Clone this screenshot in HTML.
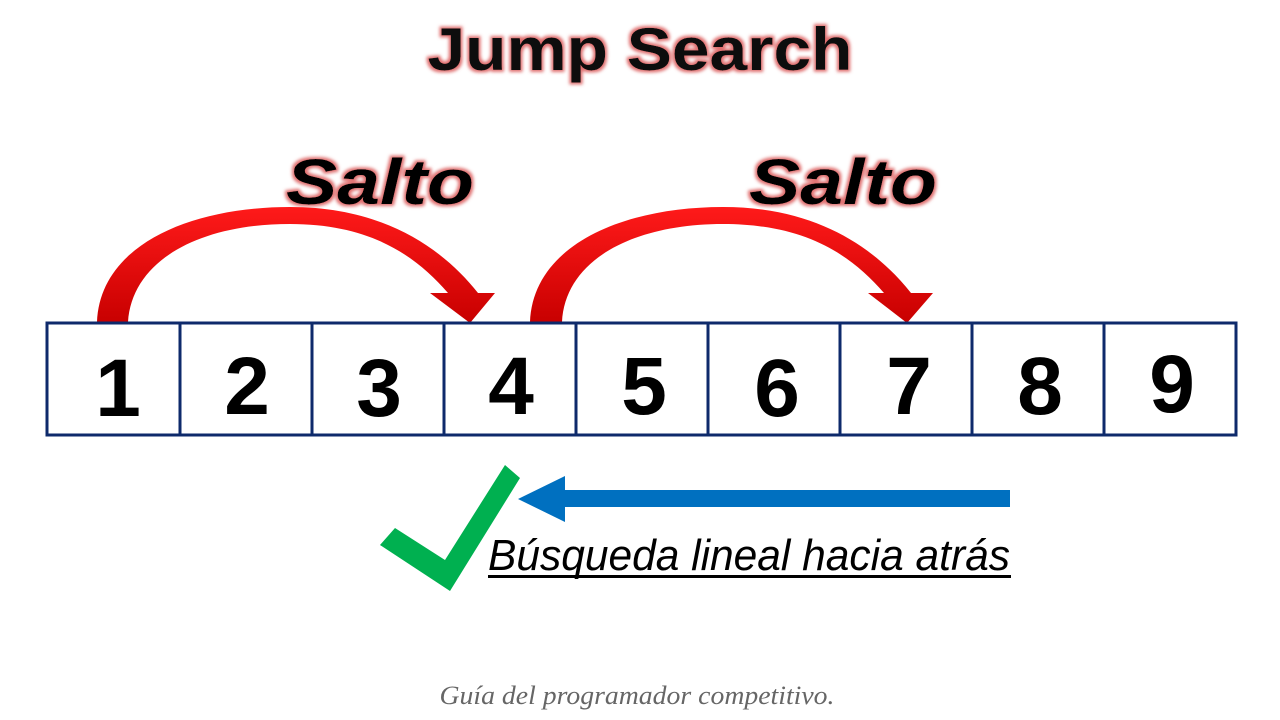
<!DOCTYPE html>
<html><head><meta charset="utf-8"><style>
html,body{margin:0;padding:0;background:#fff;width:1280px;height:720px;overflow:hidden}
</style></head><body>
<svg width="1280" height="720" viewBox="0 0 1280 720" xmlns="http://www.w3.org/2000/svg">
<defs>
<filter id="glow" x="-20%" y="-40%" width="140%" height="180%">
<feMorphology in="SourceAlpha" operator="dilate" radius="2" result="d"/>
<feGaussianBlur in="d" stdDeviation="1.5" result="b"/>
<feFlood flood-color="#e07070"/>
<feComposite in2="b" operator="in" result="g"/>
<feMerge><feMergeNode in="g"/><feMergeNode in="SourceGraphic"/></feMerge>
</filter>
<linearGradient id="rg" x1="0" y1="0" x2="0" y2="1">
<stop offset="0" stop-color="#ff1a1a"/><stop offset="1" stop-color="#c80000"/>
</linearGradient>
</defs>
<text x="640" y="70" text-anchor="middle" font-family="Liberation Sans, sans-serif" font-weight="bold" font-size="60" fill="#111" filter="url(#glow)" textLength="425" lengthAdjust="spacingAndGlyphs">Jump Search</text>
<text x="380" y="204" text-anchor="middle" font-family="Liberation Sans, sans-serif" font-weight="bold" font-style="italic" font-size="64" fill="#000" filter="url(#glow)" textLength="188" lengthAdjust="spacingAndGlyphs">Salto</text>
<text x="843" y="204" text-anchor="middle" font-family="Liberation Sans, sans-serif" font-weight="bold" font-style="italic" font-size="64" fill="#000" filter="url(#glow)" textLength="188" lengthAdjust="spacingAndGlyphs">Salto</text>
<path d="M97,322 C100,245 190,207 290,207 C380,207 440,245 478,293 L495,293 L470,323 L430,293 L448,293 C415,255 370,224 290,224 C200,224 132,260 128,322 Z" fill="url(#rg)"/>
<path d="M530,322 C533,245 623,207 723,207 C813,207 873,245 911,293 L933,293 L907,323 L868,293 L884,293 C851,255 806,224 723,224 C633,224 565,260 562,322 Z" fill="url(#rg)"/>
<rect x="47" y="323" width="1189" height="112" fill="#fff" stroke="#0e2a6b" stroke-width="3"/>
<g stroke="#0e2a6b" stroke-width="3">
<line x1="180" y1="323" x2="180" y2="435"/><line x1="312" y1="323" x2="312" y2="435"/>
<line x1="444" y1="323" x2="444" y2="435"/><line x1="576" y1="323" x2="576" y2="435"/>
<line x1="708" y1="323" x2="708" y2="435"/><line x1="840" y1="323" x2="840" y2="435"/>
<line x1="972" y1="323" x2="972" y2="435"/><line x1="1104" y1="323" x2="1104" y2="435"/>
</g>
<g font-family="Liberation Sans, sans-serif" font-weight="bold" font-size="82" fill="#000" text-anchor="middle">
<text x="118" y="416">1</text><text x="247" y="414">2</text><text x="379" y="416">3</text>
<text x="511" y="414">4</text><text x="644" y="414">5</text><text x="777" y="416">6</text>
<text x="909" y="414">7</text><text x="1040" y="414">8</text><text x="1172" y="412">9</text>
</g>
<polygon points="380,545 395,528 445,560 505,465 520,478 450,591" fill="#00b050"/>
<rect x="563" y="490" width="447" height="17" fill="#0070c0"/>
<polygon points="518,499 565,476 565,522" fill="#0070c0"/>
<text x="488" y="570" font-family="Liberation Sans, sans-serif" font-style="italic" font-size="44" fill="#000" textLength="522" lengthAdjust="spacingAndGlyphs">Búsqueda lineal hacia atrás</text>
<rect x="488" y="575" width="523" height="3" fill="#000"/>
<text x="637" y="704" text-anchor="middle" font-family="Liberation Serif, serif" font-style="italic" font-size="26" fill="#666" textLength="395" lengthAdjust="spacingAndGlyphs">Guía del programador competitivo.</text>
</svg>
</body></html>
